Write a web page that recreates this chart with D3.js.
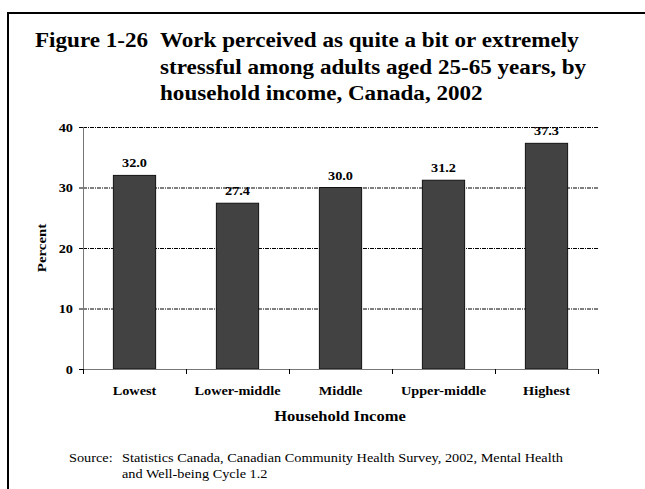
<!DOCTYPE html>
<html>
<head>
<meta charset="utf-8">
<script src="https://cdnjs.cloudflare.com/ajax/libs/d3/7.8.5/d3.min.js"></script>
<style>
  body { margin: 0; background: #fff; }
  text { font-family: "Liberation Serif", "Times New Roman", serif; fill: #000; }
</style>
</head>
<body>
<div id="chart"></div>
<script>
// data
var categories = ["Lowest", "Lower-middle", "Middle", "Upper-middle", "Highest"];
var values = [32.0, 27.4, 30.0, 31.2, 37.3];
var yTicks = [0, 10, 20, 30, 40];
var titleLines = [
  "Work perceived as quite a bit or extremely",
  "stressful among adults aged 25-65 years, by",
  "household income, Canada, 2002"
];
var sourceLines = [
  "Statistics Canada, Canadian Community Health Survey, 2002, Mental Health",
  "and Well-being Cycle 1.2"
];

var W = 645, H = 489;
var sx = 1.1; // text in the original is slightly wide

var svg = d3.select("#chart")
  .append("svg")
  .attr("width", W)
  .attr("height", H);

// frame
svg.append("rect")
  .attr("x", 8).attr("y", 13)
  .attr("width", 700).attr("height", 600)
  .attr("fill", "none")
  .attr("stroke", "#000")
  .attr("stroke-width", 2);

function label(x, y, txt, size, weight, anchor) {
  return svg.append("text")
    .attr("transform", "translate(" + x + "," + y + ") scale(" + sx + ",1)")
    .attr("font-size", size)
    .attr("font-weight", weight)
    .attr("text-anchor", anchor || "start")
    .text(txt);
}

// title
label(35, 47, "Figure 1-26", 21, "bold");
titleLines.forEach(function (t, i) {
  label(160, 47 + i * 26.5, t, 21, "bold");
});

// scales
var x = d3.scaleBand()
  .domain(categories)
  .range([83, 598])
  .paddingInner(0.59)
  .paddingOuter(0.295);

var xCat = d3.scaleBand().domain(categories).range([83, 598]);

var y = d3.scaleLinear()
  .domain([0, 40])
  .range([369, 127]);

// gridlines
svg.selectAll(".grid")
  .data(yTicks.filter(function (d) { return d > 0; }))
  .enter()
  .append("line")
  .attr("x1", 83).attr("x2", 598)
  .attr("y1", function (d) { return y(d) + 0.5; })
  .attr("y2", function (d) { return y(d) + 0.5; })
  .attr("stroke", "#000")
  .attr("stroke-width", 1)
  .attr("stroke-dasharray", "4,1,1,1");

// bars
svg.selectAll(".bar")
  .data(values)
  .enter()
  .append("rect")
  .attr("x", function (d, i) { return x(categories[i]); })
  .attr("y", function (d) { return y(d); })
  .attr("width", x.bandwidth())
  .attr("height", function (d) { return y(0) - y(d); })
  .attr("fill", "#424242")
  .attr("stroke", "#111")
  .attr("stroke-width", 1);

// value labels
values.forEach(function (d, i) {
  label(x(categories[i]) + x.bandwidth() / 2, y(d) - 8, d.toFixed(1), 13, "bold", "middle");
});

// y axis
svg.append("line")
  .attr("x1", 83.5).attr("x2", 83.5)
  .attr("y1", y(40)).attr("y2", y(0))
  .attr("stroke", "#777");
svg.selectAll(".ytick")
  .data(yTicks)
  .enter()
  .append("line")
  .attr("x1", 79).attr("x2", 83)
  .attr("y1", function (d) { return y(d) + 0.5; })
  .attr("y2", function (d) { return y(d) + 0.5; })
  .attr("stroke", "#000");
yTicks.forEach(function (d) {
  label(73, y(d) + 4.5, String(d), 13, "bold", "end");
});

// x axis
svg.append("line")
  .attr("x1", 83).attr("x2", 598)
  .attr("y1", y(0) + 0.5).attr("y2", y(0) + 0.5)
  .attr("stroke", "#777");
var bounds = categories.map(function (c) { return xCat(c); }).concat([598]);
svg.selectAll(".xtick")
  .data(bounds)
  .enter()
  .append("line")
  .attr("x1", function (d) { return Math.round(d) + 0.5; })
  .attr("x2", function (d) { return Math.round(d) + 0.5; })
  .attr("y1", y(0)).attr("y2", y(0) + 5)
  .attr("stroke", "#000");
categories.forEach(function (c) {
  label(xCat(c) + xCat.bandwidth() / 2, 395, c, 13, "bold", "middle");
});

// axis titles
label(340, 421, "Household Income", 15, "bold", "middle");
svg.append("text")
  .attr("transform", "translate(46,248) rotate(-90) scale(" + sx + ",1)")
  .attr("font-size", 13.5)
  .attr("font-weight", "bold")
  .attr("text-anchor", "middle")
  .text("Percent");

// source
label(69, 462, "Source:", 13, "normal");
sourceLines.forEach(function (t, i) {
  label(122, 462 + i * 16, t, 13, "normal");
});
</script>
</body>
</html>
